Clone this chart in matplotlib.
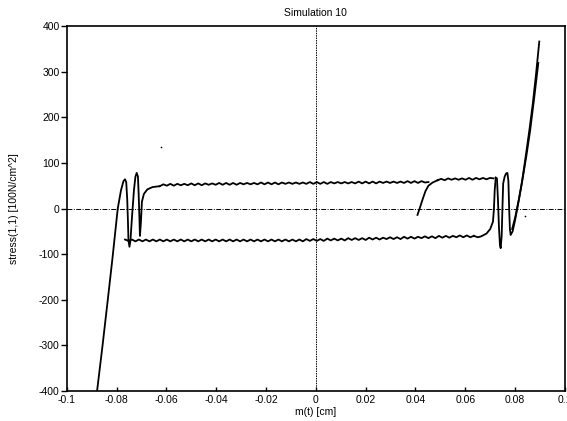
import numpy as np
import matplotlib.pyplot as plt

plt.rcParams['font.family'] = ['Liberation Sans', 'DejaVu Sans']
plt.rcParams['axes.unicode_minus'] = False

# loading curve from the bottom left and first loop
load_x = [-0.0878, -0.0856, -0.0835, -0.0817, -0.0795, -0.0782, -0.0772, -0.0766,
          -0.0761, -0.0757, -0.0754, -0.0752]
load_y = [-400, -300, -200, -113, 0, 40, 60, 64, 58, 20, -30, -70]

# second loop on the left, leading into the upper branch
loop2_x = [-0.0752, -0.0748, -0.0744, -0.0738, -0.0730, -0.0724, -0.0719, -0.0714,
           -0.0711, -0.0708, -0.0706, -0.0702, -0.0698, -0.0690, -0.0676, -0.0655,
           -0.0640, -0.0626]
loop2_y = [-70, -84, -70, -20, 40, 70, 78, 70, 30, -20, -60, -30, 15, 32, 42, 47,
           48, 49]

# upper branch (wavy), sampled every dx from x0
dx = 0.0014
upper_x0 = -0.0626
upper_y = [49, 53, 50, 54, 50, 54, 51, 54, 51, 55, 51, 55, 51, 55, 52, 55, 52, 56, 52, 56,
           52, 56, 52, 56, 53, 56, 53, 56, 53, 57, 53, 57, 53, 57, 53, 57, 54, 57, 54, 57,
           54, 57, 54, 58, 54, 58, 54, 58, 54, 58, 55, 58, 55, 58, 55, 58, 55, 59, 55, 59,
           55, 59, 55, 59, 56, 59, 56, 59, 56, 59, 56, 60, 56, 60, 56, 60, 57, 58]

# lower branch (wavy)
lower_x0 = -0.0766
lower_y = [-68, -71, -68, -72, -68, -72, -68, -72, -68, -72,
           -68, -72, -68, -72, -68, -72, -68, -72, -68, -72,
           -68, -72, -68, -72, -68, -72, -68, -72, -68, -72,
           -68, -72, -68, -72, -68, -72, -68, -72, -68, -72,
           -68, -72, -68, -72, -68, -72, -68, -72, -68, -72,
           -68, -72, -67, -71, -67, -71, -67, -71, -66, -70,
           -66, -70, -66, -70, -65, -69, -65, -69, -65, -69,
           -64, -68, -64, -68, -64, -67, -63, -67, -63, -67,
           -62, -66, -62, -66, -62, -65, -61, -65, -61, -65,
           -60, -64, -60, -64, -60, -63, -59, -63, -59, -63,
           -60]
lower_end_x = [0.0634, 0.0650, 0.0664, 0.0685, 0.0700, 0.0711, 0.0715, 0.0718, 0.0722]
lower_end_y = [-60, -63, -61, -55, -45, -29, 0, 40, 66]

# reversal on the right side
rev_x = [0.0408, 0.0418, 0.0428, 0.0440, 0.0452, 0.0469, 0.0489]
rev_y = [-14, 2, 19, 38, 50, 57, 62]

# upper branch right of the reversal
upper_r_x0 = 0.0489
upper_r_y = [62, 65, 62, 66, 63, 66, 63, 66, 63, 67, 63, 67, 64, 67, 64, 67, 66]

# loops on the right and final loading
right_x = [0.0722, 0.0727, 0.0731, 0.0735, 0.0739, 0.0742, 0.0746, 0.0749, 0.0752,
           0.0758, 0.0764, 0.0769, 0.0773, 0.0776, 0.0779, 0.0782, 0.0790, 0.0800,
           0.0812, 0.0825, 0.0836, 0.0846, 0.0858, 0.0871, 0.0884, 0.0897]
right_y = [68, 66, 20, -40, -80, -87, -60, 0, 55, 70, 77, 78, 60, 0, -45, -58, -50,
           -25, 10, 50, 90, 128, 175, 230, 295, 366]

second_x = [0.0788, 0.0800, 0.0815, 0.0830, 0.0845, 0.0860, 0.0876, 0.0893]
second_y = [-45, -20, 20, 65, 115, 170, 240, 319]

specks_x = [-0.0622, 0.0839]
specks_y = [135, -16]

xticks = [-0.1, -0.08, -0.06, -0.04, -0.02, 0, 0.02, 0.04, 0.06, 0.08, 0.1]
yticks = [-400, -300, -200, -100, 0, 100, 200, 300, 400]

fig = plt.figure(figsize=(5.67, 4.21), dpi=100)
ax = fig.add_axes([0.1176, 0.0713, 0.8788, 0.8669])

ax.axhline(0, color='black', lw=0.7, ls=(0, (5, 1.5, 1, 1.5)), zorder=1)
ax.axvline(0, color='black', lw=0.7, ls=(0, (1.5, 1)), zorder=1)

lw = 1.3
ax.plot(load_x, load_y, color='black', lw=lw)
ax.plot(loop2_x, loop2_y, color='black', lw=lw)
ax.plot(upper_x0 + dx * np.arange(len(upper_y)), upper_y, color='black', lw=lw)
ax.plot(lower_x0 + dx * np.arange(len(lower_y)), lower_y, color='black', lw=lw)
ax.plot(lower_end_x, lower_end_y, color='black', lw=lw)
ax.plot(rev_x, rev_y, color='black', lw=lw)
ax.plot(upper_r_x0 + dx * np.arange(len(upper_r_y)), upper_r_y, color='black', lw=lw)
ax.plot(right_x, right_y, color='black', lw=lw)
ax.plot(second_x, second_y, color='black', lw=lw)
ax.plot(specks_x, specks_y, 'o', color='black', ms=1.2, mew=0)

ax.set_xlim(-0.1, 0.1)
ax.set_ylim(-400, 400)
ax.set_xticks(xticks)
ax.set_xticklabels(['%g' % v for v in xticks])
ax.set_yticks(yticks)
ax.tick_params(axis='x', direction='in', length=3, width=1, labelsize=7.5, pad=3)
ax.tick_params(axis='y', direction='out', length=4, width=1, labelsize=7.5, pad=1)
for s in ax.spines.values():
    s.set_linewidth(1.2)

ax.set_title('Simulation 10', fontsize=7.5, pad=7)
ax.set_xlabel('m(t) [cm]', fontsize=7.5, labelpad=1)
ax.set_ylabel('stress(1,1) [100N/cm^2]', fontsize=7.5, labelpad=14)

plt.savefig('out.png', dpi=100)
